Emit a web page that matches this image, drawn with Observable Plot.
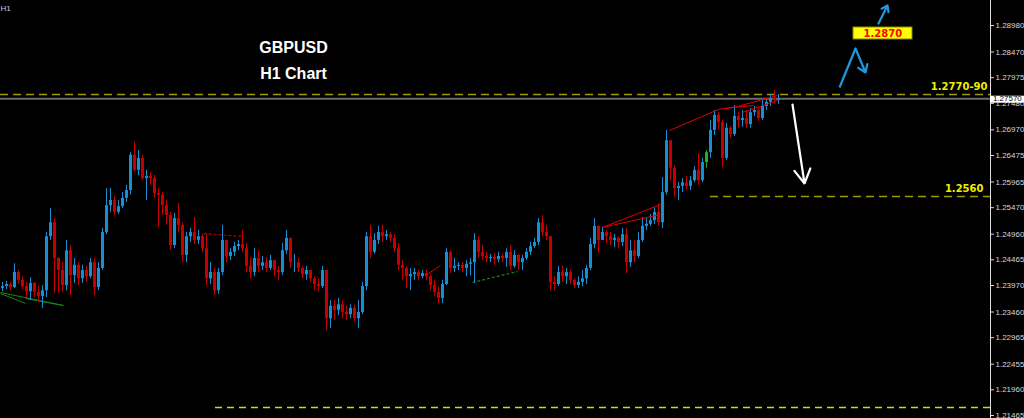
<!DOCTYPE html>
<html><head><meta charset="utf-8">
<script src="https://cdn.jsdelivr.net/npm/d3@7"></script>
<script src="https://cdn.jsdelivr.net/npm/@observablehq/plot@0.6"></script>
<style>html,body{margin:0;padding:0;background:#000;overflow:hidden}#chart svg{display:block}</style>
</head><body><div id="chart"></div>
<script>
// GBPUSD H1 candles (bar index -> price). Open of each bar = previous close.
const firstOpen = 1.2391;
const closes = [
1.2395,1.2399,1.2393,1.2422,1.2407,1.2395,1.2385,1.2401,1.2384,1.2376,
1.2387,1.2491,1.2518,1.2449,1.2426,1.2397,1.2464,1.2416,1.2436,1.2410,
1.2426,1.2414,1.2441,1.2393,1.2430,1.2499,1.2551,1.2561,1.2538,1.2549,
1.2565,1.2580,1.2648,1.2619,1.2642,1.2603,1.2607,1.2603,1.2574,1.2571,
1.2551,1.2532,1.2474,1.2526,1.2513,1.2455,1.2491,1.2499,1.2484,1.2491,
1.2468,1.2410,1.2422,1.2387,1.2422,1.2484,1.2453,1.2461,1.2472,1.2476,
1.2468,1.2434,1.2422,1.2449,1.2434,1.2441,1.2430,1.2445,1.2426,1.2422,
1.2464,1.2488,1.2441,1.2441,1.2430,1.2418,1.2426,1.2410,1.2399,1.2395,
1.2426,1.2333,1.2357,1.2349,1.2360,1.2345,1.2341,1.2353,1.2333,1.2345,
1.2395,1.2491,1.2461,1.2484,1.2499,1.2491,1.2495,1.2488,1.2468,1.2436,
1.2430,1.2414,1.2418,1.2422,1.2414,1.2420,1.2414,1.2397,1.2384,1.2372,
1.2399,1.2461,1.2430,1.2434,1.2436,1.2430,1.2438,1.2441,1.2484,1.2461,
1.2453,1.2449,1.2451,1.2447,1.2453,1.2449,1.2461,1.2434,1.2455,1.2441,
1.2449,1.2461,1.2472,1.2480,1.2518,1.2499,1.2491,1.2403,1.2399,1.2422,
1.2414,1.2422,1.2407,1.2397,1.2403,1.2410,1.2430,1.2476,1.2511,1.2484,
1.2499,1.2491,1.2484,1.2488,1.2480,1.2495,1.2441,1.2464,1.2453,1.2484,
1.2511,1.2515,1.2522,1.2538,1.2518,1.2576,1.2676,1.2623,1.2584,1.2588,
1.2595,1.2588,1.2599,1.2619,1.2599,1.2634,1.2653,1.2696,1.2725,1.2711,
1.2642,1.2700,1.2688,1.2723,1.2715,1.2719,1.2707,1.2730,1.2734,1.2719,
1.2742,1.2750,1.2757,1.2754,1.2757];
const highs = [
1.2403,1.2405,1.2403,1.2439,1.2426,1.2414,1.2403,1.2412,1.2403,1.2395,
1.2397,1.2499,1.2545,1.2526,1.2451,1.2441,1.2484,1.2474,1.2449,1.2441,
1.2436,1.2434,1.2449,1.2449,1.2441,1.2507,1.2584,1.2584,1.2569,1.2561,
1.2576,1.2590,1.2653,1.2673,1.2657,1.2648,1.2619,1.2615,1.2609,1.2584,
1.2576,1.2561,1.2538,1.2536,1.2555,1.2518,1.2499,1.2507,1.2528,1.2503,
1.2495,1.2497,1.2441,1.2430,1.2430,1.2513,1.2484,1.2468,1.2480,1.2484,
1.2503,1.2478,1.2449,1.2468,1.2464,1.2453,1.2451,1.2455,1.2441,1.2434,
1.2478,1.2503,1.2488,1.2457,1.2449,1.2434,1.2434,1.2422,1.2414,1.2410,
1.2434,1.2426,1.2368,1.2368,1.2372,1.2368,1.2357,1.2360,1.2359,1.2368,
1.2403,1.2499,1.2513,1.2497,1.2511,1.2513,1.2503,1.2499,1.2495,1.2478,
1.2445,1.2434,1.2430,1.2430,1.2426,1.2426,1.2426,1.2418,1.2407,1.2395,
1.2407,1.2468,1.2464,1.2449,1.2441,1.2441,1.2445,1.2449,1.2497,1.2491,
1.2474,1.2461,1.2457,1.2459,1.2461,1.2457,1.2468,1.2474,1.2464,1.2457,
1.2455,1.2468,1.2480,1.2488,1.2526,1.2532,1.2513,1.2491,1.2414,1.2434,
1.2434,1.2430,1.2426,1.2410,1.2414,1.2426,1.2436,1.2488,1.2526,1.2513,
1.2509,1.2503,1.2499,1.2495,1.2491,1.2507,1.2507,1.2484,1.2484,1.2499,
1.2528,1.2526,1.2534,1.2547,1.2555,1.2605,1.2696,1.2657,1.2628,1.2595,
1.2603,1.2607,1.2607,1.2626,1.2651,1.2642,1.2657,1.2715,1.2734,1.2730,
1.2715,1.2709,1.2703,1.2744,1.2730,1.2734,1.2734,1.2738,1.2742,1.2738,
1.2754,1.2757,1.2765,1.2773,1.2765];
const lows = [
1.2385,1.2389,1.2387,1.2391,1.2399,1.2389,1.2374,1.2368,1.2374,1.2366,
1.2353,1.2374,1.2484,1.2382,1.2382,1.2384,1.2387,1.2378,1.2401,1.2397,
1.2401,1.2403,1.2410,1.2378,1.2387,1.2426,1.2495,1.2538,1.2532,1.2534,
1.2545,1.2557,1.2571,1.2615,1.2609,1.2599,1.2561,1.2590,1.2565,1.2509,
1.2532,1.2513,1.2464,1.2468,1.2499,1.2441,1.2441,1.2480,1.2476,1.2476,
1.2461,1.2397,1.2399,1.2378,1.2380,1.2416,1.2441,1.2445,1.2453,1.2464,
1.2461,1.2422,1.2410,1.2414,1.2422,1.2426,1.2422,1.2426,1.2414,1.2407,
1.2416,1.2457,1.2430,1.2422,1.2422,1.2410,1.2407,1.2403,1.2387,1.2384,
1.2391,1.2310,1.2314,1.2330,1.2339,1.2333,1.2330,1.2333,1.2326,1.2314,
1.2341,1.2387,1.2449,1.2457,1.2476,1.2480,1.2484,1.2480,1.2461,1.2426,
1.2407,1.2391,1.2387,1.2407,1.2407,1.2410,1.2407,1.2387,1.2376,1.2362,
1.2362,1.2397,1.2420,1.2422,1.2426,1.2422,1.2414,1.2416,1.2401,1.2449,
1.2445,1.2441,1.2441,1.2436,1.2441,1.2441,1.2432,1.2426,1.2430,1.2426,
1.2426,1.2445,1.2455,1.2468,1.2474,1.2491,1.2484,1.2387,1.2387,1.2395,
1.2403,1.2399,1.2399,1.2391,1.2391,1.2395,1.2399,1.2426,1.2468,1.2459,
1.2484,1.2478,1.2474,1.2470,1.2468,1.2472,1.2420,1.2432,1.2441,1.2449,
1.2480,1.2503,1.2511,1.2515,1.2511,1.2507,1.2571,1.2599,1.2567,1.2561,
1.2576,1.2580,1.2580,1.2595,1.2590,1.2595,1.2623,1.2642,1.2686,1.2696,
1.2624,1.2638,1.2680,1.2684,1.2700,1.2702,1.2700,1.2700,1.2723,1.2713,
1.2715,1.2734,1.2742,1.2746,1.2746];
const greenBars = [176];

const yTicks = [1.28980,1.28470,1.27975,1.27480,1.26970,1.26475,1.25965,1.25470,
                1.24960,1.24465,1.23970,1.23460,1.22965,1.22455,1.21960,1.21465];
const currentPrice = 1.27570;
const resistance = 1.27651;   // "1.2770-90"
const support = 1.25686;      // "1.2560"
const lowLevel = 1.21620;
const targetLabel = "1.2870";
const resistanceLabel = "1.2770-90";
const supportLabel = "1.2560";

// scale domains
const xDomain = [-0.5, 247];
const yDomain = [1.21408, 1.29462];

const candles = closes.map((c, i) => {
  const open = i === 0 ? firstOpen : closes[i - 1];
  return {i, open, close: c,
    high: Math.max(highs[i], open, c), low: Math.min(lows[i], open, c),
    color: greenBars.includes(i) ? "#1fb41f" : (c >= open ? "#1a8ed2" : "#c40000")};
});

// drawn trend lines (bar index, price)
const redLines = [
  {x1:150, y1:1.25088, x2:164.5, y2:1.25531},
  {x1:150, y1:1.25088, x2:164.5, y2:1.25339},
  {x1:166.75, y1:1.26957, x2:179, y2:1.27362},
  {x1:179, y1:1.27362, x2:183.75, y2:1.27420},
  {x1:180.25, y1:1.27381, x2:187.75, y2:1.27439},
  {x1:183.75, y1:1.27420, x2:193.75, y2:1.27632},
  {x1:185, y1:1.27304, x2:193.75, y2:1.27535},
  {x1:105.75, y1:1.24163, x2:109.5, y2:1.24356}
];
const redDashed = [{x1:50.25, y1:1.24973, x2:60, y2:1.24915}];
const greenDashed = [{x1:117.5, y1:1.24029, x2:128.75, y2:1.24240}];
const greenLines = [
  {x1:-0.5, y1:1.23836, x2:15.25, y2:1.23585},
  {x1:-0.5, y1:1.23817, x2:5.75, y2:1.23624},
  {x1:5.75, y1:1.23720, x2:15.25, y2:1.23585}
];
const blueSegments = [{x1:209.25, y1:1.27786, x2:213.25, y2:1.28537}];
const blueArrows = [
  {x1:213.25, y1:1.28537, x2:215.75, y2:1.28075},
  {x1:219, y1:1.29019, x2:221.25, y2:1.29366}
];
const whiteArrows = [{x1:197.5, y1:1.27458, x2:200.5, y2:1.25936}];

const fontBold = "DejaVu Sans, Verdana, sans-serif";

const chart = Plot.plot({
  width: 1024, height: 418,
  marginTop: 0, marginBottom: 0, marginLeft: 0, marginRight: 34,
  style: {background: "#000", color: "#d8d8d8", fontFamily: "Liberation Sans, Arial, sans-serif", fontSize: "8px", overflow: "visible"},
  x: {domain: xDomain, axis: null},
  y: {domain: yDomain, axis: null},
  marks: [
    Plot.ruleY([{y: currentPrice}], {y: "y", stroke: "#6a6a6a", strokeWidth: 2}),
    Plot.ruleY([{y: resistance}], {y: "y", stroke: "#9c9c00", strokeWidth: 1.6, strokeDasharray: "8,5"}),
    Plot.ruleY([{y: support, a: 177, b: 247}], {y: "y", x1: "a", x2: "b", stroke: "#9c9c00", strokeWidth: 1.6, strokeDasharray: "8,5"}),
    Plot.ruleY([{y: lowLevel, a: 53.25, b: 247}], {y: "y", x1: "a", x2: "b", stroke: "#d8d800", strokeWidth: 1.4, strokeDasharray: "7,5"}),
    Plot.link(greenLines, {x1: "x1", y1: "y1", x2: "x2", y2: "y2", stroke: "#168a16", strokeWidth: 1}),
    Plot.link(greenDashed, {x1: "x1", y1: "y1", x2: "x2", y2: "y2", stroke: "#168a16", strokeWidth: 1.2, strokeDasharray: "3,2"}),
    Plot.link(redDashed, {x1: "x1", y1: "y1", x2: "x2", y2: "y2", stroke: "#b00000", strokeWidth: 1.2, strokeDasharray: "3,2"}),
    Plot.ruleX(candles, {x: "i", y1: "low", y2: "high", stroke: "color", strokeWidth: 1}),
    Plot.ruleX(candles, {x: "i", y1: "open", y2: "close", stroke: "color", strokeWidth: 3}),
    Plot.link(redLines, {x1: "x1", y1: "y1", x2: "x2", y2: "y2", stroke: "#e00000", strokeWidth: 1}),
    // price axis
    Plot.ruleX([{x: 247}], {x: "x", stroke: "#e0e0e0", strokeWidth: 1}),
    Plot.axisY(yTicks, {anchor: "right", tickSize: 3, tickPadding: 2, tickFormat: d => d.toFixed(5), color: "#d8d8d8", fontSize: 8}),
    Plot.rect([{a: 247, b: 255.5, lo: 1.27483, hi: 1.27618}], {x1: "a", x2: "b", y1: "lo", y2: "hi", fill: "#ffffff"}),
    Plot.text([{x: 247.6, y: currentPrice, t: currentPrice.toFixed(5)}], {x: "x", y: "y", text: "t", textAnchor: "start", fill: "#000", fontSize: 8}),
    // annotations
    Plot.text([{x: 246.25, y: 1.27805, t: resistanceLabel}], {x: "x", y: "y", text: "t", textAnchor: "end", fill: "#eeee00", fontSize: 10, fontWeight: "bold", fontFamily: fontBold}),
    Plot.text([{x: 245.25, y: 1.25840, t: supportLabel}], {x: "x", y: "y", text: "t", textAnchor: "end", fill: "#eeee00", fontSize: 10, fontWeight: "bold", fontFamily: fontBold}),
    Plot.rect([{a: 212.75, b: 227.5, lo: 1.28711, hi: 1.28942}], {x1: "a", x2: "b", y1: "lo", y2: "hi", fill: "#ffff00", stroke: "#8a8a00", strokeWidth: 1}),
    Plot.text([{x: 220.1, y: 1.28826, t: targetLabel}], {x: "x", y: "y", text: "t", fill: "#ff0000", fontSize: 10, fontWeight: "bold", fontFamily: fontBold}),
    Plot.link(blueSegments, {x1: "x1", y1: "y1", x2: "x2", y2: "y2", stroke: "#1e9ae0", strokeWidth: 2.2}),
    Plot.arrow(blueArrows, {x1: "x1", y1: "y1", x2: "x2", y2: "y2", stroke: "#1e9ae0", strokeWidth: 2.2, headLength: 9, headAngle: 70}),
    Plot.arrow(whiteArrows, {x1: "x1", y1: "y1", x2: "x2", y2: "y2", stroke: "#ffffff", strokeWidth: 2.2, headLength: 11, headAngle: 60}),
    Plot.text([{x: 72.75, y: 1.28556, t: "GBPUSD"}, {x: 72.75, y: 1.28055, t: "H1 Chart"}], {x: "x", y: "y", text: "t", fill: "#ffffff", fontSize: 16, fontWeight: "bold", fontFamily: "Liberation Sans, Arial, sans-serif"}),
    Plot.text(["H1"], {frameAnchor: "top-left", dx: 0, dy: 5, fill: "#d0d0d0", fontSize: 8})
  ]
});
document.getElementById("chart").appendChild(chart);
</script>
</body></html>
